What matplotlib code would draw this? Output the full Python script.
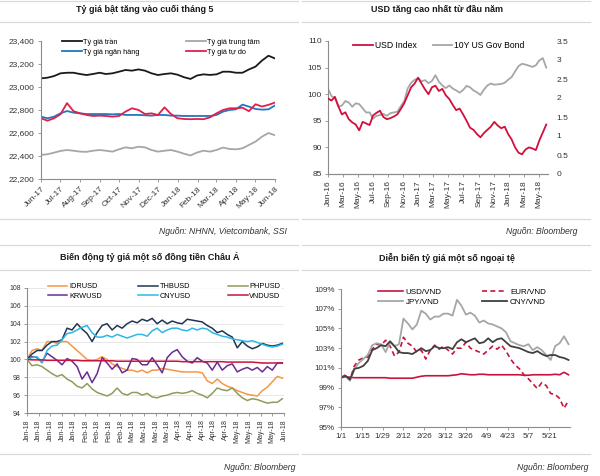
import matplotlib.pyplot as plt
import matplotlib.dates as mdates
import pandas as pd
from matplotlib.lines import Line2D
from matplotlib.ticker import FuncFormatter, MultipleLocator

plt.rcParams['font.family'] = ['Liberation Sans', 'DejaVu Sans']

W, H = 600, 476

# ---- Panel 1: VND/USD rates, Jun-17 .. Jun-18 (about every 10 days) ----
p1_dates = pd.date_range('2017-06-01', '2018-06-01', periods=37)
p1_ceiling = [23075, 23081, 23095, 23119, 23124, 23124, 23113, 23104, 23113, 23124,
              23113, 23119, 23133, 23148, 23142, 23153, 23142, 23119, 23104, 23113,
              23119, 23107, 23085, 23070, 23100, 23110, 23105, 23110, 23133, 23133,
              23124, 23124, 23153, 23177, 23230, 23272, 23248]
p1_central = [22410, 22415, 22429, 22444, 22452, 22446, 22438, 22436, 22446, 22452,
              22446, 22438, 22458, 22475, 22467, 22481, 22475, 22452, 22438, 22446,
              22452, 22438, 22420, 22405, 22430, 22446, 22438, 22452, 22473, 22461,
              22458, 22467, 22496, 22525, 22568, 22600, 22580]
p1_bank = [22742, 22728, 22742, 22771, 22791, 22777, 22771, 22765, 22765, 22765,
           22765, 22762, 22765, 22757, 22757, 22757, 22754, 22751, 22757, 22757,
           22751, 22751, 22748, 22748, 22748, 22748, 22748, 22757, 22786, 22800,
           22806, 22847, 22829, 22809, 22803, 22806, 22840]
p1_free = [22728, 22707, 22728, 22763, 22860, 22790, 22771, 22757, 22748, 22751,
           22748, 22742, 22748, 22786, 22815, 22800, 22765, 22771, 22757, 22823,
           22765, 22728, 22722, 22720, 22722, 22720, 22736, 22771, 22800, 22815,
           22815, 22820, 22790, 22850, 22830, 22845, 22865]
p1_labels = ['Tỷ giá trần', 'Tỷ giá ngân hàng', 'Tỷ giá trung tâm', 'Tỷ giá tự do']

# ---- Panel 2: USD index and 10Y bond, every two weeks from Jan-16 ----
p2_dates = pd.date_range('2016-01-01', periods=64, freq='14D')
p2_usd_index = [99.2, 98.8, 99.5, 97.7, 96.2, 96.6, 95.3, 94.7, 94.3, 93.2,
                94.8, 94.5, 94.2, 96.0, 96.5, 96.9, 95.7, 95.3, 95.5, 95.8,
                96.2, 97.2, 98.3, 99.8, 101.3, 102.0, 103.1, 102.0, 100.9, 100.0,
                101.3, 101.6, 100.6, 101.0, 99.8, 99.1, 98.0, 97.0, 97.3, 96.2,
                95.0, 93.7, 93.3, 92.5, 91.9, 92.7, 93.3, 93.9, 94.8, 94.1,
                93.6, 93.9, 92.5, 91.5, 90.0, 89.0, 88.7, 89.6, 90.0, 89.8,
                89.5, 91.3, 92.8, 94.3]
p2_bond = [2.25, 2.05, 2.00, 1.78, 1.80, 1.92, 1.88, 1.77, 1.86, 1.84,
           1.73, 1.62, 1.62, 1.46, 1.53, 1.55, 1.58, 1.53, 1.60, 1.62,
           1.64, 1.78, 1.92, 2.25, 2.40, 2.48, 2.52, 2.44, 2.47, 2.39,
           2.45, 2.60, 2.43, 2.33, 2.26, 2.33, 2.25, 2.20, 2.14, 2.21,
           2.32, 2.28, 2.20, 2.15, 2.08, 2.22, 2.33, 2.38, 2.35, 2.36,
           2.37, 2.40, 2.48, 2.55, 2.70, 2.84, 2.90, 2.88, 2.85, 2.82,
           2.86, 2.99, 3.05, 2.80]

# ---- Panel 3: Asian currencies (index, 1/1/2018 = 100), every 3 days ----
p3_dates = pd.date_range('2018-01-01', periods=52, freq='3D')
p3_idr = [100.0, 101.0, 101.2, 101.0, 102.0, 102.0, 101.8, 102.0, 102.0, 101.5,
          101.0, 100.5, 100.0, 99.9, 100.0, 100.3, 100.0, 99.5, 99.2, 99.0,
          98.8, 98.8, 98.6, 98.8, 98.5, 98.8, 98.8, 99.0, 98.9, 98.8,
          98.7, 98.6, 98.6, 98.6, 98.6, 98.5, 97.6, 97.3, 97.8, 97.3,
          97.0, 96.8, 96.5, 96.3, 96.1, 96.0, 95.9, 96.5, 96.9, 97.5,
          98.1, 97.9]
p3_thb = [100.0, 100.6, 101.0, 101.0, 101.6, 102.0, 102.0, 102.2, 103.5, 103.3,
          104.0, 103.4, 102.9, 102.0, 103.0, 103.8, 104.0, 103.3, 103.8, 103.5,
          104.0, 104.3, 104.1, 104.5, 104.3, 104.6, 104.0, 104.4, 104.0, 104.3,
          104.1, 104.0, 104.5, 104.4, 104.3, 104.2, 103.8, 103.5, 103.0, 103.2,
          102.8, 102.5, 101.3, 102.0, 101.5, 101.2, 101.4, 101.8, 101.6, 101.5,
          101.6, 101.8]
p3_php = [100.0, 99.3, 99.4, 99.2, 98.8, 98.4, 98.1, 98.3, 97.8, 97.5,
          97.0, 96.8, 97.3, 96.7, 96.3, 96.1, 95.9, 96.2, 96.8, 96.2,
          96.0, 96.3, 96.3, 96.0, 96.2, 95.8, 95.7, 95.9, 96.0, 96.2,
          96.3, 96.2, 96.3, 96.5, 96.2, 96.0, 95.7, 96.2, 96.8, 96.6,
          96.5, 96.8, 96.2, 95.7, 95.4, 95.6, 95.5, 95.3, 95.1, 95.2,
          95.2, 95.6]
p3_krw = [100.0, 100.3, 100.2, 99.7, 100.7, 100.3, 99.9, 99.4, 100.1, 99.8,
          99.2, 97.8, 98.6, 97.4, 98.4, 100.2, 99.6, 98.9, 99.5, 98.5,
          98.8, 100.1, 100.0, 99.4, 99.4, 100.2, 99.4, 98.5, 100.2, 100.8,
          101.1, 100.3, 99.8, 99.6, 100.2, 99.8, 99.6, 98.8, 99.7, 98.8,
          99.3, 99.5, 98.6, 98.9, 99.1, 98.8, 99.1, 98.6, 99.2, 98.8,
          99.6, 99.6]
p3_cny = [100.0, 100.2, 100.3, 99.6, 101.0, 101.5, 101.6, 102.2, 102.9, 103.0,
          103.3, 103.6, 103.8, 103.0, 102.5, 102.5, 102.7, 102.5, 102.8, 102.6,
          102.4, 102.6, 102.8, 102.8, 102.6, 103.2, 103.5, 103.0, 103.3, 103.5,
          103.5, 103.3, 103.2, 103.5, 103.3, 103.5, 103.4, 103.0, 102.8, 102.6,
          102.5, 102.3, 102.2, 102.1, 102.0, 102.1, 101.9, 101.7, 101.5, 101.4,
          101.5, 101.7]
p3_vnd = [100.0, 99.95, 99.95, 99.95, 99.9, 99.9, 99.9, 99.9, 99.9, 99.9,
          99.9, 99.85, 99.85, 99.85, 99.85, 99.85, 99.85, 99.85, 99.8, 99.8,
          99.8, 99.8, 99.8, 99.8, 99.8, 99.8, 99.8, 99.8, 99.8, 99.8,
          99.8, 99.75, 99.75, 99.75, 99.75, 99.75, 99.75, 99.75, 99.75, 99.75,
          99.7, 99.7, 99.7, 99.7, 99.7, 99.7, 99.65, 99.6, 99.6, 99.6,
          99.6, 99.6]

# ---- Panel 4: foreign currencies vs VND (%, 1/1/2018 = 100), every 3 days ----
p4_dates = pd.date_range('2018-01-01', periods=52, freq='3D')
p4_usd = [100.0, 100.1, 100.05, 100.0, 100.0, 100.0, 100.0, 100.0, 100.0, 100.0,
          100.0, 99.95, 99.95, 99.95, 99.95, 99.95, 99.95, 100.05, 100.15, 100.2,
          100.2, 100.2, 100.2, 100.2, 100.2, 100.25, 100.3, 100.4, 100.35, 100.3,
          100.3, 100.35, 100.35, 100.3, 100.3, 100.3, 100.3, 100.3, 100.3, 100.3,
          100.3, 100.25, 100.25, 100.3, 100.3, 100.3, 100.3, 100.3, 100.35, 100.3,
          100.55, 100.3]
p4_eur = [100.0, 100.3, 99.8, 101.2, 101.8, 102.0, 102.1, 102.9, 103.4, 103.3,
          103.8, 103.2, 102.2, 102.6, 104.1, 103.5, 103.2, 102.6, 102.8, 101.9,
          102.8, 103.3, 102.9, 103.2, 102.8, 102.4, 103.0, 103.0, 103.6, 103.0,
          102.8, 102.6, 102.4, 102.8, 103.2, 102.9, 103.3, 102.7, 101.9, 101.3,
          100.9, 100.3, 99.9, 99.4, 98.9, 99.5, 99.2, 98.4, 98.3, 97.9,
          96.9, 97.7]
p4_jpy = [100.0, 100.2, 99.7, 100.9, 101.5, 101.9, 102.3, 103.3, 103.5, 103.4,
          102.6, 103.6, 103.2, 103.4, 106.0, 105.5, 104.9, 105.4, 106.8, 106.5,
          105.9, 106.2, 106.2, 106.5, 106.5, 106.3, 107.9, 107.3, 106.4, 106.6,
          106.3, 105.6, 105.8, 105.5, 105.4, 105.2, 105.0, 104.6, 103.7, 103.5,
          103.3, 103.2, 103.4, 102.8, 103.1, 102.8, 102.3, 101.8, 103.2, 103.5,
          104.2, 103.4]
p4_cny = [100.0, 100.2, 99.8, 100.9, 101.0, 101.2, 101.7, 102.8, 103.0, 103.3,
          103.2, 103.7, 103.2, 102.6, 102.5, 102.5, 102.4, 102.7, 103.0, 102.7,
          102.8, 103.2, 103.0, 103.0, 103.1, 102.9, 103.6, 103.9, 103.6, 103.8,
          104.0, 103.5, 103.6, 104.0, 103.6, 103.9, 104.0, 103.6, 103.2, 103.1,
          103.0, 102.8, 102.6, 102.5, 102.7, 102.4, 102.2, 102.3, 102.3, 102.1,
          102.0, 101.8]
p4_yticks = [95, 97, 99, 101, 103, 105, 107, 109]

TICK_SIZE = 6
TEXT_COLOR = '#333333'
AXIS_COLOR = '#8c8c8c'
SEP_COLOR = '#d9d9d9'


def px_axes(fig, left, top, right, bottom):
    return fig.add_axes([left / W, 1 - bottom / H, (right - left) / W, (bottom - top) / H])


def fig_text(fig, x, y, s, **kw):
    fig.text(x / W, 1 - y / H, s, **kw)


def sep_line(fig, x0, x1, y):
    fig.add_artist(Line2D([x0 / W, x1 / W], [1 - y / H] * 2, color=SEP_COLOR, lw=0.9))


def style_axis(ax, size=TICK_SIZE):
    for side in ['top', 'right']:
        ax.spines[side].set_visible(False)
    for side in ['left', 'bottom']:
        ax.spines[side].set_color(AXIS_COLOR)
        ax.spines[side].set_linewidth(0.8)
    ax.tick_params(labelsize=size, labelcolor=TEXT_COLOR, color=AXIS_COLOR,
                   length=2.5, width=0.6, pad=2)
    ax.set_facecolor('none')


fig = plt.figure(figsize=(W / 100, H / 100), dpi=100)

# separators
for y in [1, 22, 219, 245, 270, 454]:
    sep_line(fig, 0, 298, y)
    sep_line(fig, 302, 590, y)

# ---------- Panel 1 ----------
ax1 = px_axes(fig, 41, 41, 275, 179)
style_axis(ax1)
l_ceiling, = ax1.plot(p1_dates, p1_ceiling, color='#1a1a1a', lw=1.3)
l_bank, = ax1.plot(p1_dates, p1_bank, color='#1f78c1', lw=1.3)
l_central, = ax1.plot(p1_dates, p1_central, color='#a6a6a6', lw=1.3)
l_free, = ax1.plot(p1_dates, p1_free, color='#e0204a', lw=1.3)
ax1.set_ylim(22200, 23400)
ax1.yaxis.set_major_locator(MultipleLocator(200))
ax1.yaxis.set_major_formatter(FuncFormatter(lambda v, p: f'{v:,.0f}'))
ax1.set_xlim(pd.Timestamp('2017-06-01'), pd.Timestamp('2018-06-01'))
ax1.xaxis.set_major_locator(mdates.MonthLocator())
ax1.xaxis.set_major_formatter(mdates.DateFormatter('%b-%y'))
plt.setp(ax1.get_xticklabels(), rotation=45, ha='right', rotation_mode='anchor')
ax1.legend([l_ceiling, l_bank, l_central, l_free], p1_labels, ncol=2, frameon=False,
           fontsize=5.3, handlelength=2.7, handletextpad=0.2, columnspacing=6.3,
           labelspacing=0.35, loc='upper left', bbox_to_anchor=(0.06, 1.07))
fig_text(fig, 145, 10, 'Tỷ giá bật tăng vào cuối tháng 5', ha='center', va='center',
         fontsize=6.5, fontweight='bold', color='#1a1a1a')
fig_text(fig, 287, 231, 'Nguồn: NHNN, Vietcombank, SSI', ha='right', va='center',
         fontsize=6.2, style='italic', color=TEXT_COLOR)

# ---------- Panel 2 ----------
ax2 = px_axes(fig, 328, 41, 548, 174)
style_axis(ax2)
ax2r = ax2.twinx()
style_axis(ax2r)
ax2r.spines['left'].set_visible(False)
l_usd, = ax2.plot(p2_dates, p2_usd_index, color='#d0103a', lw=1.3, zorder=3)
l_bond, = ax2r.plot(p2_dates, p2_bond, color='#a6a6a6', lw=1.3)
ax2.set_zorder(ax2r.get_zorder() + 1)
ax2.set_ylim(85, 110)
ax2.yaxis.set_major_locator(MultipleLocator(5))
ax2r.set_ylim(0, 3.5)
ax2r.yaxis.set_major_locator(MultipleLocator(0.5))
ax2r.yaxis.set_major_formatter(FuncFormatter(lambda v, p: f'{v:g}'))
ax2r.tick_params(axis='y', length=0, pad=6)
ax2.set_xlim(pd.Timestamp('2016-01-01'), pd.Timestamp('2018-06-08'))
ax2.xaxis.set_major_locator(mdates.MonthLocator(bymonth=[1, 3, 5, 7, 9, 11]))
ax2.xaxis.set_major_formatter(mdates.DateFormatter('%b-%y'))
plt.setp(ax2.get_xticklabels(), rotation=90)
ax2.legend([l_usd, l_bond], ['USD Index', '10Y US Gov Bond'], ncol=2, frameon=False,
           fontsize=6.2, handlelength=2.3, handletextpad=0.2, columnspacing=1.85,
           loc='upper left', bbox_to_anchor=(0.08, 1.06))
fig_text(fig, 437, 10, 'USD tăng cao nhất từ đầu năm', ha='center', va='center',
         fontsize=6.5, fontweight='bold', color='#1a1a1a')
fig_text(fig, 577, 231, 'Nguồn: Bloomberg', ha='right', va='center',
         fontsize=6.2, style='italic', color=TEXT_COLOR)

# ---------- Panel 3 ----------
ax3 = px_axes(fig, 27, 288, 284, 413)
style_axis(ax3, size=5.0)
ax3.grid(axis='y', color='#e3e3e3', lw=0.6)
ax3.set_axisbelow(True)
p3_series = [('IDRUSD', p3_idr, '#f79646'), ('KRWUSD', p3_krw, '#6a2c91'),
             ('THBUSD', p3_thb, '#1f3553'), ('CNYUSD', p3_cny, '#2db7e6'),
             ('PHPUSD', p3_php, '#8f9c5c'), ('VNDUSD', p3_vnd, '#c8143c')]
for name, vals, col in p3_series:
    ax3.plot(p3_dates, vals, color=col, lw=1.1, label=name)
ax3.set_ylim(94, 108)
ax3.yaxis.set_major_locator(MultipleLocator(2))
ax3.set_xlim(pd.Timestamp('2018-01-01'), pd.Timestamp('2018-06-04'))
ax3.xaxis.set_major_locator(mdates.WeekdayLocator(byweekday=mdates.MO))
ax3.xaxis.set_major_formatter(mdates.DateFormatter('%b-%y'))
plt.setp(ax3.get_xticklabels(), rotation=90)
leg3 = ax3.legend(ncol=3, frameon=True, fontsize=5.3, handlelength=2.7, handletextpad=0.2,
                  columnspacing=5.0, labelspacing=0.35, loc='upper left',
                  bbox_to_anchor=(0.06, 1.08), borderpad=0.2)
leg3.get_frame().set_facecolor('white')
leg3.get_frame().set_edgecolor('none')
fig_text(fig, 150, 257, 'Biến động tỷ giá một số đồng tiền Châu Á', ha='center', va='center',
         fontsize=6.5, fontweight='bold', color='#1a1a1a')
fig_text(fig, 295, 468, 'Nguồn: Bloomberg', ha='right', va='center',
         fontsize=6.2, style='italic', color=TEXT_COLOR)

# ---------- Panel 4 ----------
ax4 = px_axes(fig, 341, 289, 570, 427)
style_axis(ax4, size=5.8)
l4_usd, = ax4.plot(p4_dates, p4_usd, color='#c8143c', lw=1.2)
l4_eur, = ax4.plot(p4_dates, p4_eur, color='#c8143c', lw=1.2, ls=(0, (3, 2)))
l4_jpy, = ax4.plot(p4_dates, p4_jpy, color='#a6a6a6', lw=1.3)
l4_cny, = ax4.plot(p4_dates, p4_cny, color='#404040', lw=1.3)
ax4.set_ylim(95, 109)
ax4.set_yticks(p4_yticks)
ax4.yaxis.set_major_formatter(FuncFormatter(lambda v, p: f'{v:.0f}%'))
ax4.set_xlim(pd.Timestamp('2018-01-01'), pd.Timestamp('2018-06-04'))
p4_ticks = pd.date_range('2018-01-01', periods=11, freq='14D')
ax4.set_xticks(p4_ticks)
ax4.set_xticklabels([f'{d.month}/{d.day}' for d in p4_ticks])
ax4.legend([l4_usd, l4_jpy, l4_eur, l4_cny], ['USD/VND', 'JPY/VND', 'EUR/VND', 'CNY/VND'],
           ncol=2, frameon=False, fontsize=5.8, handlelength=3.1, handletextpad=0.3,
           columnspacing=5.1, labelspacing=0.35, loc='upper left',
           bbox_to_anchor=(0.13, 1.06))
fig_text(fig, 447, 258, 'Diễn biến tỷ giá một số ngoại tệ', ha='center', va='center',
         fontsize=6.5, fontweight='bold', color='#1a1a1a')
fig_text(fig, 588, 468, 'Nguồn: Bloomberg', ha='right', va='center',
         fontsize=6.2, style='italic', color=TEXT_COLOR)

fig.savefig('out.png', dpi=100)
